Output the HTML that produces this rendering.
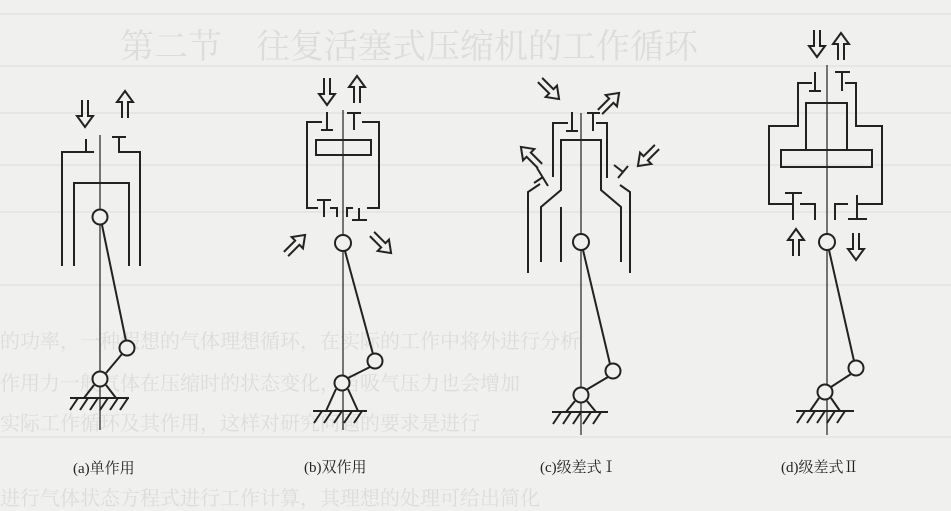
<!DOCTYPE html>
<html><head><meta charset="utf-8"><style>
html,body{margin:0;padding:0;background:#f0f0ee;}
svg{display:block;}
</style></head><body>
<svg width="951" height="511" viewBox="0 0 951 511" xmlns="http://www.w3.org/2000/svg">
<defs>
<path id="ar" d="M-3,0 V-16 H-8 L0,-27 L8,-16 H3 V0" fill="none" stroke="#222" stroke-width="2" stroke-linejoin="miter"/>
</defs>
<rect width="951" height="511" fill="#f0f0ee"/>
<!-- faint background -->
<g stroke="#e2e2e0" stroke-width="1.5">
<line x1="0" y1="14" x2="951" y2="14"/>
<line x1="0" y1="66" x2="951" y2="66"/>
<line x1="0" y1="113" x2="951" y2="113"/>
<line x1="0" y1="165" x2="951" y2="165"/>
<line x1="0" y1="212" x2="951" y2="212"/>
<line x1="0" y1="285" x2="951" y2="285"/>
<line x1="0" y1="437" x2="951" y2="437"/>
</g>
<g font-family="Liberation Serif, Noto Serif CJK SC, serif" fill="#dcdcda">
<text x="120" y="58" font-size="34">第二节　往复活塞式压缩机的工作循环</text>
<text x="0" y="348" font-size="20">的功率，一种假想的气体理想循环，在实际的工作中将外进行分析</text>
<text x="0" y="390" font-size="20">作用力一般气体在压缩时的状态变化，当吸气压力也会增加</text>
<text x="0" y="430" font-size="20">实际工作循环及其作用，这样对研究问题的要求是进行</text>
<text x="0" y="505" font-size="20">进行气体状态方程式进行工作计算，其理想的处理可给出简化</text>
</g>
<g stroke="#222" stroke-width="2" fill="none">
<!-- (a) -->
<line x1="100" y1="135" x2="100" y2="430" stroke-width="1.2"/>
<path d="M62,266 V152 H92"/>
<path d="M86,139 V152 M80,152 H94"/>
<path d="M112,137 H126 M119,137 V152 H140 V266"/>
<path d="M74,266 V183 H129 V266"/>
<circle cx="100" cy="217" r="7.5" fill="#f0f0ee"/>
<line x1="102" y1="225" x2="126" y2="341"/>
<circle cx="127" cy="348" r="7.5" fill="#f0f0ee"/>
<line x1="122" y1="354" x2="106" y2="373"/>
<circle cx="100" cy="379" r="7.5" fill="#f0f0ee"/>
<path d="M94,385 L84,398 M106,385 L116,398"/>
<line x1="70" y1="398" x2="129" y2="398"/>
<path d="M78,398 l-8,12 M88,398 l-8,12 M98,398 l-8,12 M108,398 l-8,12 M118,398 l-8,12 M128,398 l-8,12"/>
<use href="#ar" transform="translate(85,100) rotate(180)"/>
<use href="#ar" transform="translate(125,118)"/>
<!-- (b) -->
<line x1="343" y1="110" x2="343" y2="430" stroke-width="1.2"/>
<path d="M322,122 H307 V208 H318"/>
<path d="M327,112 V130 M321,130 H333"/>
<path d="M347,113 H361 M354,113 V130 M362,122 H379 V208 H367"/>
<rect x="316" y="140" width="55" height="15"/>
<path d="M317,200 H331 M324,200 V217 M330,208 H337 V217"/>
<path d="M347,217 V208 H353 M359,208 V220 M352,220 H367"/>
<circle cx="343" cy="243" r="8" fill="#f0f0ee"/>
<line x1="345" y1="251" x2="373" y2="354"/>
<circle cx="375" cy="361" r="7.5" fill="#f0f0ee"/>
<line x1="370" y1="367" x2="348" y2="378"/>
<circle cx="342" cy="383" r="7.5" fill="#f0f0ee"/>
<path d="M336,389 L326,411 M348,389 L358,411"/>
<line x1="313" y1="411" x2="367" y2="411"/>
<path d="M322,411 l-8,12 M332,411 l-8,12 M342,411 l-8,12 M352,411 l-8,12 M362,411 l-8,12"/>
<use href="#ar" transform="translate(327,78) rotate(180)"/>
<use href="#ar" transform="translate(357,103)"/>
<use href="#ar" transform="translate(286,254) rotate(45)"/>
<use href="#ar" transform="translate(372,234) rotate(135)"/>
<!-- (c) -->
<line x1="581" y1="113" x2="581" y2="435" stroke-width="1.2"/>
<path d="M568,123 H553 V177"/>
<path d="M572,112 V131 M566,131 H578"/>
<path d="M587,113 H600 M593,113 V131 M596,123 H607 V178"/>
<path d="M561,262 V207 L561,207 M541,262 V207 L561,190 V140 H601 V190 L621,207 V262"/>
<path d="M528,273 V192 L540,184"/>
<path d="M630,273 V192 L620,185"/>
<path d="M537,168 L548,186 M543,177 L534,183"/>
<path d="M618,178 L628,166 M623,172 L614,165"/>
<circle cx="581" cy="242" r="8" fill="#f0f0ee"/>
<line x1="583" y1="250" x2="610" y2="364"/>
<circle cx="613" cy="371" r="7.5" fill="#f0f0ee"/>
<line x1="608" y1="377" x2="586" y2="390"/>
<circle cx="581" cy="395" r="7.5" fill="#f0f0ee"/>
<path d="M575,401 L566,412 M587,401 L596,412"/>
<line x1="552" y1="412" x2="608" y2="412"/>
<path d="M561,412 l-8,12 M571,412 l-8,12 M581,412 l-8,12 M591,412 l-8,12 M601,412 l-8,12"/>
<use href="#ar" transform="translate(540,80) rotate(135)"/>
<use href="#ar" transform="translate(600,112) rotate(45)"/>
<use href="#ar" transform="translate(540,166) rotate(-45)"/>
<use href="#ar" transform="translate(657,147) rotate(-135)"/>
<!-- (d) -->
<line x1="827" y1="65" x2="827" y2="435" stroke-width="1.2"/>
<path d="M812,83 H798 V126 H769 V204 H793"/>
<path d="M815,72 V91 M809,91 H821"/>
<path d="M835,72 H850 M842,72 V91 M845,83 H856 V126 H882 V204 H857"/>
<rect x="806" y="103" width="41" height="47"/>
<rect x="781" y="150" width="91" height="17"/>
<path d="M785,193 H802 M793,193 V220 M800,204 H815 V220"/>
<path d="M835,220 V204 H848 M857,195 V219 M848,219 H867"/>
<circle cx="827" cy="242" r="8" fill="#f0f0ee"/>
<line x1="829" y1="250" x2="854" y2="361"/>
<circle cx="856" cy="368" r="7.5" fill="#f0f0ee"/>
<line x1="851" y1="374" x2="831" y2="387"/>
<circle cx="825" cy="392" r="7.5" fill="#f0f0ee"/>
<path d="M819,398 L810,411 M831,398 L840,411"/>
<line x1="796" y1="411" x2="854" y2="411"/>
<path d="M805,411 l-8,12 M815,411 l-8,12 M825,411 l-8,12 M835,411 l-8,12 M845,411 l-8,12"/>
<use href="#ar" transform="translate(817,30) rotate(180)"/>
<use href="#ar" transform="translate(841,60)"/>
<use href="#ar" transform="translate(796,256)"/>
<use href="#ar" transform="translate(856,233) rotate(180)"/>
</g>
<g font-family="Liberation Serif, Noto Serif CJK SC, serif" font-size="15" fill="#222">
<text x="73" y="473">(a)单作用</text>
<text x="304" y="472">(b)双作用</text>
<text x="540" y="472">(c)级差式Ⅰ</text>
<text x="781" y="472">(d)级差式Ⅱ</text>
</g>
</svg>
</body></html>
